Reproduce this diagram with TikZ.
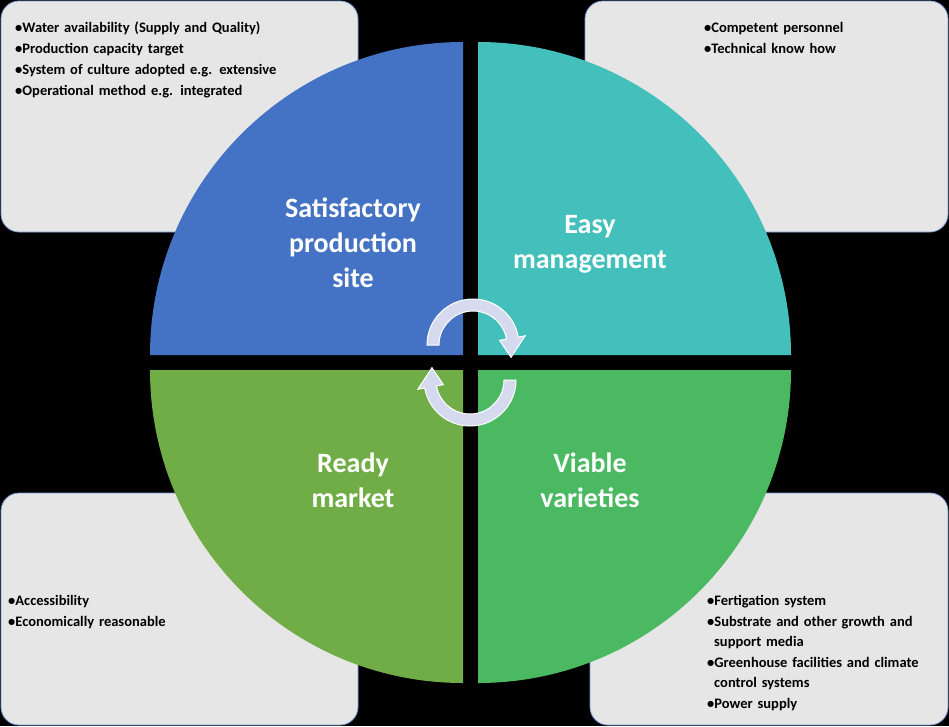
\documentclass[tikz,border=0pt]{standalone}
\usepackage{fontspec}
\setmainfont{Carlito}
\usepackage{tikz}
\usetikzlibrary{calc}

\definecolor{sitecol}{HTML}{4472C4}
\definecolor{mgmtcol}{HTML}{43BFBC}
\definecolor{marketcol}{HTML}{70AD47}
\definecolor{varcol}{HTML}{4BB862}
\definecolor{boxcol}{HTML}{E7E6E6}
\definecolor{arrcol}{HTML}{D6DAEE}

\newcommand{\bitem}[1]{\par\hangindent=7pt\hangafter=1\noindent\textbullet#1\par\vspace{1pt}}

\tikzset{
  infobox/.style={fill=boxcol, draw=sitecol!70, line width=0.8pt, rounded corners=18pt},
  infotext/.style={anchor=north west, inner sep=0pt, align=left, font=\fontsize{14.5}{20}\selectfont\bfseries},
  quadlabel/.style={text=white, align=center, font=\fontsize{28}{35}\selectfont\bfseries},
  cycarrow/.style={fill=arrcol, draw=white, line width=1pt}
}

\begin{document}
\begin{tikzpicture}[x=1pt,y=-1pt]
     \fill[black] (0,0) rectangle (949,726);
     \useasboundingbox (0,0) rectangle (949,726);
     % boxes
     \draw[infobox] (1,1) rectangle (358,232);
     \draw[infobox] (585,1) rectangle (948,232);
     \draw[infobox] (1,493) rectangle (358,725);
     \draw[infobox] (590,493) rectangle (948,725);
     \node[infotext, text width=280pt] (sitetext) at (15,12) {%
       \bitem{Water availability (Supply and Quality)}
       \bitem{Production capacity target}
       \bitem{System of culture adopted e.g. extensive}
       \bitem{Operational method e.g. integrated}};
     \node[infotext, text width=220pt] (mgmttext) at (704,12) {%
       \bitem{Competent personnel}
       \bitem{Technical know how}};
     \node[infotext, text width=300pt] (markettext) at (8,585) {%
       \bitem{Accessibility}
       \bitem{Economically reasonable}};
     \node[infotext, text width=215pt] (vartext) at (707,585) {%
       \bitem{Fertigation system}
       \bitem{Substrate and other growth and support media}
       \bitem{Greenhouse facilities and climate control systems}
       \bitem{Power supply}};
     % quadrants
     \fill[sitecol] (463,355) -- (150,355) arc[start angle=180, end angle=270, radius=313] -- cycle;
     \fill[mgmtcol] (478,355) -- (478,42) arc[start angle=270, end angle=360, radius=313] -- cycle;
     \fill[marketcol] (463,370) -- (463,683) arc[start angle=90, end angle=180, radius=313] -- cycle;
     \fill[varcol] (478,370) -- (791,370) arc[start angle=0, end angle=90, radius=313] -- cycle;
     \node[quadlabel] (site) at (353,243) {Satisfactory\\production\\site};
     \node[quadlabel] (mgmt) at (590,244) {Easy\\management};
     \node[quadlabel] (market) at (353,480) {Ready\\market};
     \node[quadlabel] (var) at (590,480) {Viable\\varieties};
     % cycle arrows
     \draw[cycarrow] (473,345) ++(180:46) arc[start angle=180, end angle=350, radius=46]
        -- ($(473,345)+(350:53)$) -- ($(473,345)+(18:40)$) -- ($(473,345)+(350:27)$)
        -- ($(473,345)+(350:34)$) arc[start angle=350, end angle=180, radius=34] -- cycle;
     \draw[cycarrow] (470,380) ++(0:46) arc[start angle=0, end angle=170, radius=46]
        -- ($(470,380)+(170:53)$) -- ($(470,380)+(198:40)$) -- ($(470,380)+(170:27)$)
        -- ($(470,380)+(170:34)$) arc[start angle=170, end angle=0, radius=34] -- cycle;
\end{tikzpicture}
\end{document}
